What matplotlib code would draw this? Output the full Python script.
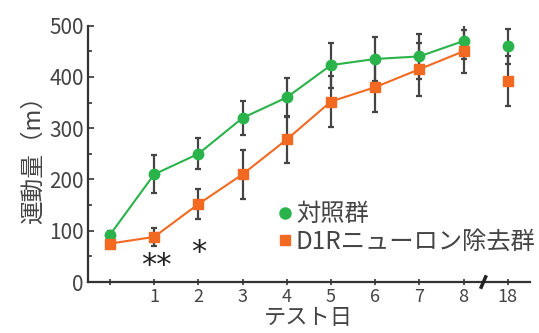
import numpy as np
import matplotlib.pyplot as plt
from matplotlib.lines import Line2D

plt.rcParams['font.family'] = ['Noto Sans CJK JP', 'DejaVu Sans']

days = ["", "1", "2", "3", "4", "5", "6", "7", "8", "18"]
control = [92, 210, 250, 320, 360, 423, 435, 440, 470, 460]
control_err = [8, 37, 30, 33, 38, 44, 42, 44, 36, 34]
d1r = [75, 88, 152, 210, 278, 352, 380, 415, 450, 392]
d1r_err = [5, 17, 30, 48, 46, 50, 48, 52, 42, 48]
star_pos = [1, 2]
star_text = ["**", "*"]
star_y = [32, 57]

GREEN = "#2bb34b"
ORANGE = "#f26a21"
GREY = "#444444"

fig = plt.figure(figsize=(5.39, 3.33), dpi=100)
ax = fig.add_axes([0.163, 0.153, 0.82, 0.77])

x = np.arange(len(days))
main = slice(0, 9)

for vals, errs, col, mk, ms in [(control, control_err, GREEN, "o", 7.5),
                                (d1r, d1r_err, ORANGE, "s", 7)]:
    vals = np.array(vals)
    errs = np.array(errs)
    ax.errorbar(x, vals, yerr=errs, fmt="none", ecolor=GREY, elinewidth=1.6,
                capsize=2.5, capthick=1.6, zorder=2)
    ax.plot(x[main], vals[main], color=col, lw=1.5, zorder=3)
    ax.plot(x, vals, ls="none", marker=mk, ms=ms, color=col, zorder=4)

for pos, s, yv in zip(star_pos, star_text, star_y):
    ax.text(pos + (0.05 if len(s) > 1 else 0), yv, s, family="DejaVu Sans",
            ha="center", va="center", fontsize=22, color="#222222")

ax.set_xlim(-0.5, 9.5)
ax.set_ylim(0, 500)
ax.set_xticks(x)
ax.set_xticklabels(days)
ax.set_yticks(np.arange(0, 501, 100))
ax.set_yticks(np.arange(50, 500, 100), minor=True)

for side in ["top", "right"]:
    ax.spines[side].set_visible(False)
for side in ["left", "bottom"]:
    ax.spines[side].set_linewidth(1.6)
    ax.spines[side].set_color("#333333")

ax.tick_params(axis="x", direction="inout", length=5, width=1.2, colors="#333333",
               labelsize=13, pad=2)
ax.tick_params(axis="y", which="major", direction="in", length=4, width=1.2,
               colors="#333333", labelsize=15, pad=3)
ax.tick_params(axis="y", which="minor", direction="in", length=3, width=1.2,
               colors="#333333")
for lab in ax.get_xticklabels() + ax.get_yticklabels():
    lab.set_color("#444444")

# axis break mark
trans = ax.get_xaxis_transform()
ax.plot([8.40, 8.50], [-0.02, 0.02], transform=trans, color="#222222", lw=2.5,
        clip_on=False, zorder=5)

ax.set_xlabel("テスト日", fontsize=16, color="#444444", labelpad=0)
ax.set_ylabel("運動量（m）", fontsize=17, color="#444444", labelpad=3)

handles = [Line2D([], [], ls="none", marker="o", ms=8, color=GREEN),
           Line2D([], [], ls="none", marker="s", ms=7, color=ORANGE)]
ax.legend(handles, ["対照群", "D1Rニューロン除去群"], loc="upper left",
          bbox_to_anchor=(263 / 539, 1 - 189 / 333), bbox_transform=fig.transFigure,
          frameon=False, fontsize=17.5, handletextpad=0.05, handlelength=0.8,
          labelspacing=0.05, borderpad=0, labelcolor="#444444")

fig.savefig("out.png", dpi=100)
